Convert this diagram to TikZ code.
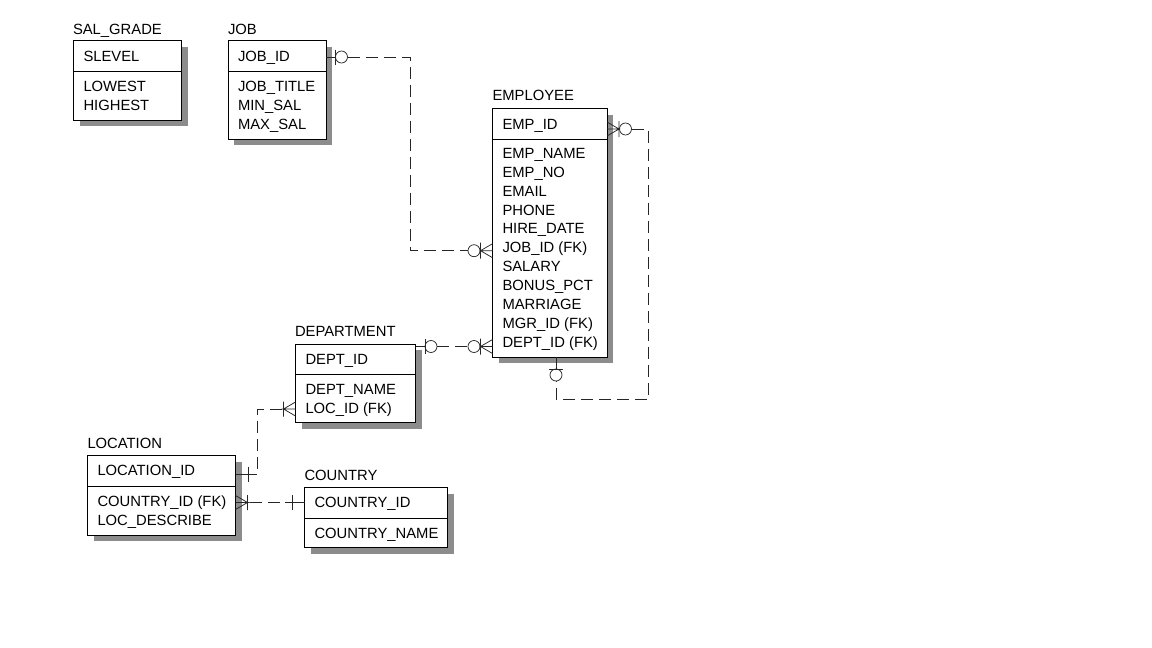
\documentclass[tikz,border=0pt]{standalone}
\usepackage{fontspec}
\setmainfont{Liberation Sans}
\usetikzlibrary{calc,shadows}
\newcommand\erZeroMany[2]{%
  \begin{scope}[shift={#1},xscale=#2]
  \draw[rel] (-12,0) -- (0,-7) (-12,0) -- (0,7) (-13,0) -- (0,0) (-12,-8) -- (-12,8);
  \draw[rel] (-18.5,0) circle[radius=6pt];
  \end{scope}}
\newcommand\erZeroOne[2]{%
  \begin{scope}[shift={#1},xscale=#2]
  \draw[rel] (0,0) -- (-9.5,0) (-9.5,-7.5) -- (-9.5,7.5);
  \draw[rel] (-15.5,0) circle[radius=6pt];
  \end{scope}}
\newcommand\erOneMany[2]{%
  \begin{scope}[shift={#1},xscale=#2]
  \draw[rel] (-12,0) -- (0,-7) (-12,0) -- (0,7) (-14,0) -- (0,0) (-12,-7.5) -- (-12,7.5);
  \end{scope}}
\newcommand\erOne[2]{%
  \begin{scope}[shift={#1},xscale=#2]
  \draw[rel] (0,0) -- (-20,0) (-12.5,-7.5) -- (-12.5,7.5);
  \end{scope}}
\newcommand\erbox[5]{% name, x, y, w, h
  \node[entity, minimum width=#4, minimum height=#5] (#1) at (#2,#3) {};
  \draw[line width=0.8pt] ($(#1.north west)+(0,30.5)$) -- ($(#1.north east)+(0,30.5)$);}
\begin{document}
\begin{tikzpicture}[x=1pt,y=-1pt,
  font=\fontsize{14.8}{18.9}\selectfont,
  entity/.style={draw=black, line width=0.8pt, fill=white, inner sep=0pt, outer sep=0pt,
    anchor=north west,
    drop shadow={shadow xshift=6pt, shadow yshift=-6pt, fill=black!45, opacity=1, draw=none}},
  txt/.style={anchor=base west, inner sep=0pt, outer sep=0pt, text=black},
  rel/.style={line width=0.75pt, draw=black!85},
  reld/.style={rel, dash pattern=on 12pt off 6pt}]
\useasboundingbox (0,0) rectangle (1152,648);

% ---------- entities ----------
\erbox{sal}{73.5}{40.5}{108}{79.5}
\erbox{job}{228}{40.5}{98}{98.5}
\erbox{emp}{492.5}{108.5}{114.5}{248.5}
\erbox{dept}{295.5}{344}{120}{78.5}
\erbox{loc}{87.5}{455.5}{148}{79.5}
\erbox{cty}{304.5}{487.5}{143}{60}

% ---------- titles ----------
\node[txt] (salT) at (73,34.3) {SAL\_GRADE};
\node[txt] (jobT) at (228,34.3) {JOB};
\node[txt] (empT) at (492.5,100.3) {EMPLOYEE};
\node[txt] (deptT) at (295,336.3) {DEPARTMENT};
\node[txt] (locT) at (87.5,448.3) {LOCATION};
\node[txt] (ctyT) at (304.5,480.3) {COUNTRY};

% ---------- keys ----------
\node[txt] (salK) at (83.5,61.3) {SLEVEL};
\node[txt] (jobK) at (238,61.3) {JOB\_ID};
\node[txt] (empK) at (502.5,129.3) {EMP\_ID};
\node[txt] (deptK) at (305.5,364.3) {DEPT\_ID};
\node[txt] (locK) at (97.5,475.3) {LOCATION\_ID};
\node[txt] (ctyK) at (314.5,507.3) {COUNTRY\_ID};

% ---------- attributes ----------
\foreach \t [count=\i from 0] in {LOWEST,HIGHEST}
  \node[txt] (salA\i) at (83.5,91.3+19*\i) {\t};
\foreach \t [count=\i from 0] in {JOB\_TITLE,MIN\_SAL,MAX\_SAL}
  \node[txt] (jobA\i) at (238,91.3+19*\i) {\t};
\foreach \t [count=\i from 0] in {EMP\_NAME,EMP\_NO,EMAIL,PHONE,HIRE\_DATE,JOB\_ID (FK),SALARY,BONUS\_PCT,MARRIAGE,MGR\_ID (FK),DEPT\_ID (FK)}
  \node[txt] (empA\i) at (502.5,158.3+18.9*\i) {\t};
\foreach \t [count=\i from 0] in {DEPT\_NAME,LOC\_ID (FK)}
  \node[txt] (deptA\i) at (305.5,394.3+19*\i) {\t};
\foreach \t [count=\i from 0] in {COUNTRY\_ID (FK),LOC\_DESCRIBE}
  \node[txt] (locA\i) at (97.5,506.3+19*\i) {\t};
\node[txt] (ctyA0) at (314.5,538.3) {COUNTRY\_NAME};

% ---------- connector end points ----------
\coordinate (jobR) at ($(job.north east)+(0,16.5)$);
\coordinate (empJ) at ($(emp.north west)+(0,142.2)$);
\coordinate (deptR) at ($(dept.north east)+(0,2.5)$);
\coordinate (empD) at ($(emp.north west)+(0,238)$);
\coordinate (empR) at ($(emp.north east)+(0,20.5)$);
\coordinate (empB) at ($(emp.south west)+(63.5,0)$);
\coordinate (deptL) at ($(dept.north west)+(0,65)$);
\coordinate (locR) at ($(loc.north east)+(0,18.5)$);
\coordinate (locF) at ($(loc.north east)+(0,47)$);
\coordinate (ctyL) at ($(cty.north west)+(0,15)$);

% JOB -- EMPLOYEE
\erZeroOne{(jobR)}{-1}
\erZeroMany{(empJ)}{1}
\draw[reld] ($(jobR)+(21.5,0)$) -| ($(empJ)+(-82.5,0)$) -- ($(empJ)+(-24.5,0)$);

% DEPARTMENT -- EMPLOYEE
\erZeroOne{(deptR)}{-1}
\erZeroMany{(empD)}{1}
\draw[reld] ($(deptR)+(21.5,0)$) -- ($(empD)+(-24.5,0)$);

% EMPLOYEE (manager) self relation
\erZeroMany{(empR)}{-1}
\draw[rel] (empB) -- ++(0,12) ($(empB)+(-7,12)$) -- ++(14,0);
\draw[rel] ($(empB)+(0,18)$) circle[radius=6pt];
\draw[reld] ($(empR)+(24.5,0)$) -- ($(empR)+(41,0)$) |- ($(empB)+(0,42)$) -- ($(empB)+(0,24)$);

% LOCATION -- DEPARTMENT
\erOneMany{(deptL)}{1}
\erOne{(locR)}{-1}
\draw[reld] ($(deptL)+(-14,0)$) -- ($(deptL)+(-38.5,0)$) |- ($(locR)+(20,0)$);

% COUNTRY -- LOCATION
\erOneMany{(locF)}{-1}
\erOne{(ctyL)}{1}
\draw[reld] ($(locF)+(14,0)$) -- ($(ctyL)+(-20,0)$);
\end{tikzpicture}
\end{document}
